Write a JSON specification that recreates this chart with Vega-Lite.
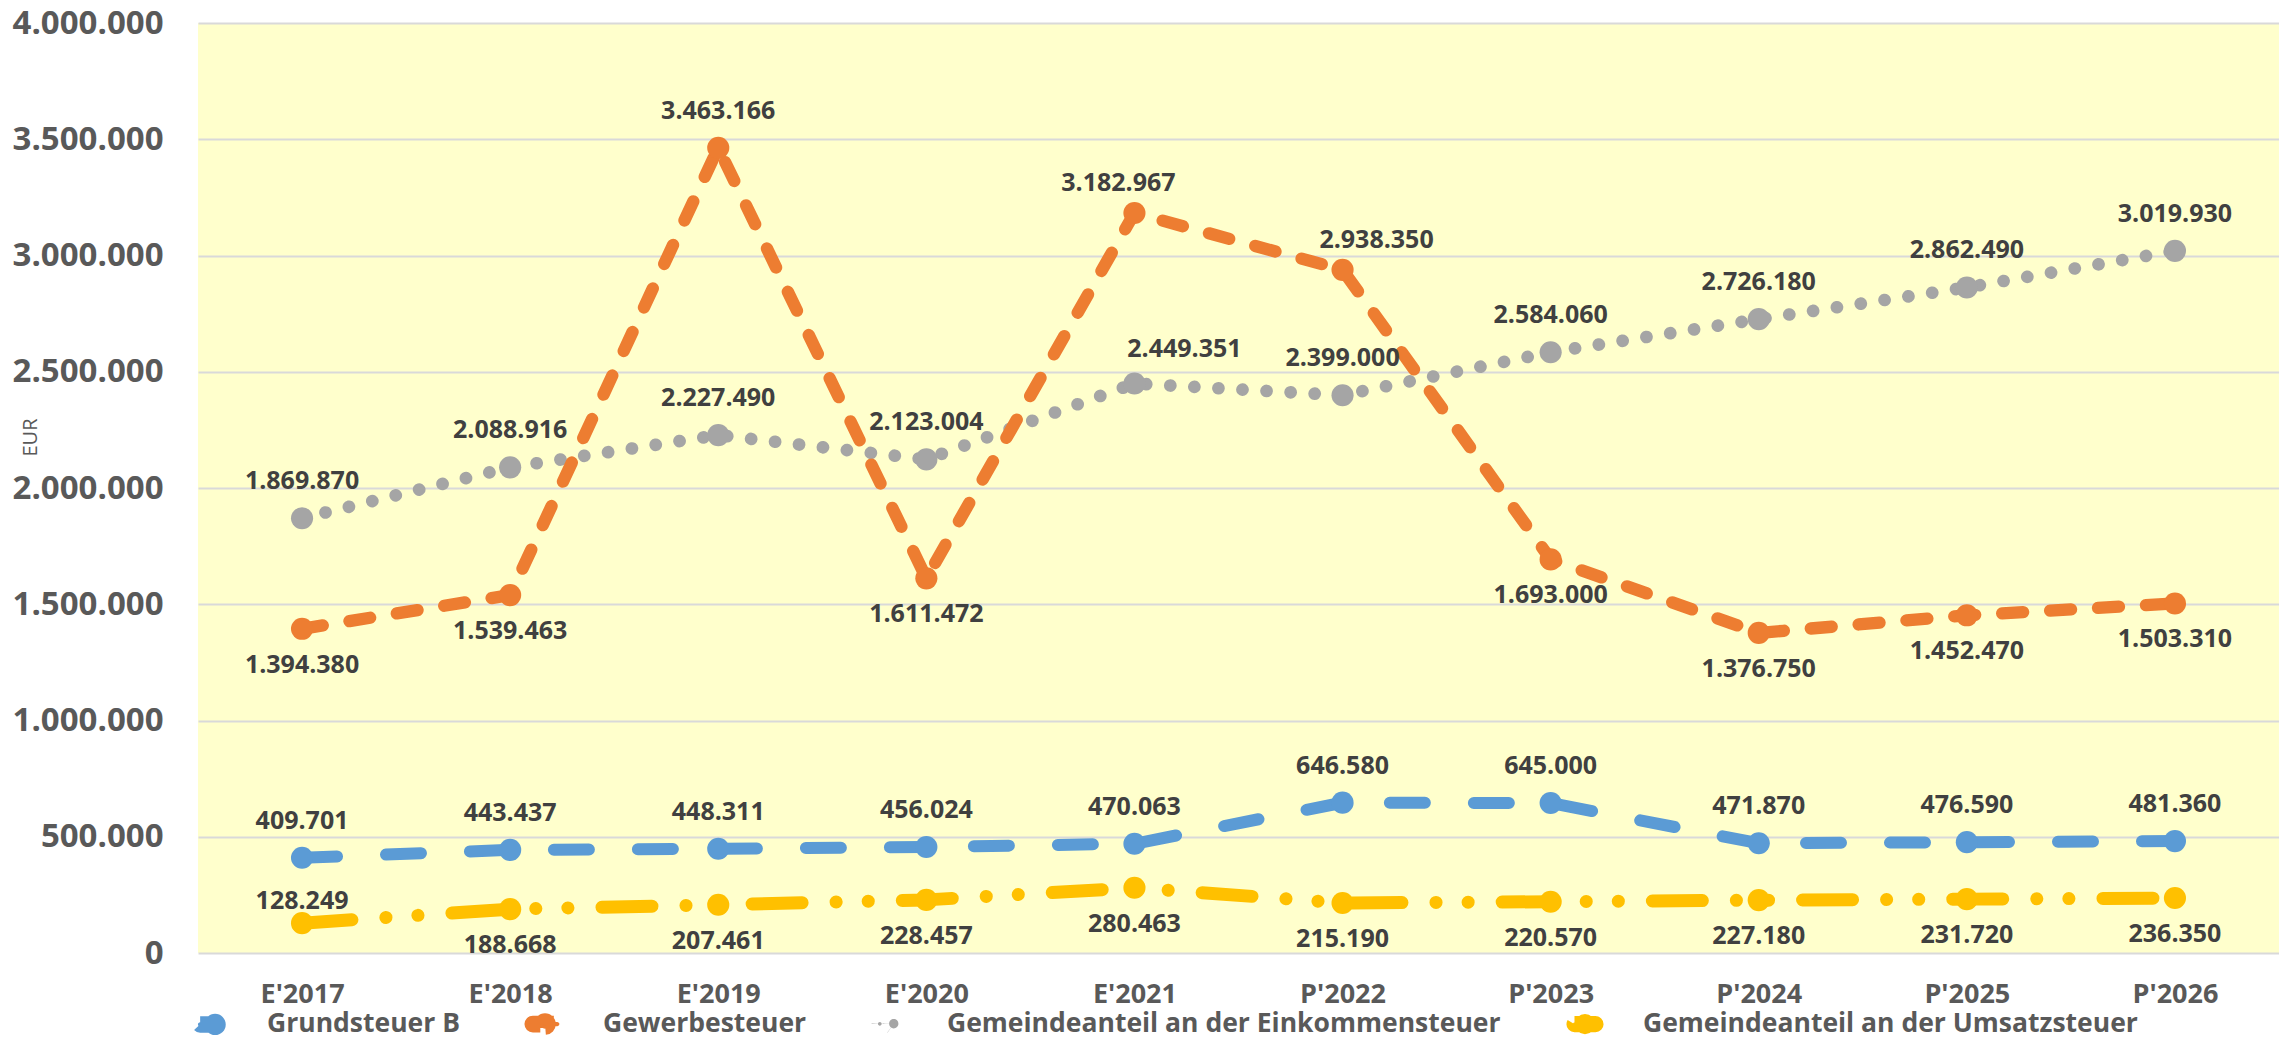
{
  "$schema": "https://vega.github.io/schema/vega-lite/v6.json",
  "width": 2081,
  "height": 930,
  "autosize": {"type": "none"},
  "padding": {"left": 198, "top": 23, "right": 0, "bottom": 86},
  "background": "white",
  "config": {
    "locale": {"number": {"decimal": ",", "thousands": ".", "grouping": [3], "currency": ["", " €"]}},
    "view": {"fill": "#FFFFCC", "stroke": null},
    "font": "Open Sans"
  },
  "data": {
    "values": [
      {"series": "Gemeindeanteil an der Umsatzsteuer", "year": "E'2017", "value": 128249},
      {"series": "Gemeindeanteil an der Umsatzsteuer", "year": "E'2018", "value": 188668},
      {"series": "Gemeindeanteil an der Umsatzsteuer", "year": "E'2019", "value": 207461},
      {"series": "Gemeindeanteil an der Umsatzsteuer", "year": "E'2020", "value": 228457},
      {"series": "Gemeindeanteil an der Umsatzsteuer", "year": "E'2021", "value": 280463},
      {"series": "Gemeindeanteil an der Umsatzsteuer", "year": "P'2022", "value": 215190},
      {"series": "Gemeindeanteil an der Umsatzsteuer", "year": "P'2023", "value": 220570},
      {"series": "Gemeindeanteil an der Umsatzsteuer", "year": "P'2024", "value": 227180},
      {"series": "Gemeindeanteil an der Umsatzsteuer", "year": "P'2025", "value": 231720},
      {"series": "Gemeindeanteil an der Umsatzsteuer", "year": "P'2026", "value": 236350},
      {"series": "Gemeindeanteil an der Einkommensteuer", "year": "E'2017", "value": 1869870},
      {"series": "Gemeindeanteil an der Einkommensteuer", "year": "E'2018", "value": 2088916},
      {"series": "Gemeindeanteil an der Einkommensteuer", "year": "E'2019", "value": 2227490},
      {"series": "Gemeindeanteil an der Einkommensteuer", "year": "E'2020", "value": 2123004},
      {"series": "Gemeindeanteil an der Einkommensteuer", "year": "E'2021", "value": 2449351},
      {"series": "Gemeindeanteil an der Einkommensteuer", "year": "P'2022", "value": 2399000},
      {"series": "Gemeindeanteil an der Einkommensteuer", "year": "P'2023", "value": 2584060},
      {"series": "Gemeindeanteil an der Einkommensteuer", "year": "P'2024", "value": 2726180},
      {"series": "Gemeindeanteil an der Einkommensteuer", "year": "P'2025", "value": 2862490},
      {"series": "Gemeindeanteil an der Einkommensteuer", "year": "P'2026", "value": 3019930},
      {"series": "Gewerbesteuer", "year": "E'2017", "value": 1394380},
      {"series": "Gewerbesteuer", "year": "E'2018", "value": 1539463},
      {"series": "Gewerbesteuer", "year": "E'2019", "value": 3463166},
      {"series": "Gewerbesteuer", "year": "E'2020", "value": 1611472},
      {"series": "Gewerbesteuer", "year": "E'2021", "value": 3182967},
      {"series": "Gewerbesteuer", "year": "P'2022", "value": 2938350},
      {"series": "Gewerbesteuer", "year": "P'2023", "value": 1693000},
      {"series": "Gewerbesteuer", "year": "P'2024", "value": 1376750},
      {"series": "Gewerbesteuer", "year": "P'2025", "value": 1452470},
      {"series": "Gewerbesteuer", "year": "P'2026", "value": 1503310},
      {"series": "Grundsteuer B", "year": "E'2017", "value": 409701},
      {"series": "Grundsteuer B", "year": "E'2018", "value": 443437},
      {"series": "Grundsteuer B", "year": "E'2019", "value": 448311},
      {"series": "Grundsteuer B", "year": "E'2020", "value": 456024},
      {"series": "Grundsteuer B", "year": "E'2021", "value": 470063},
      {"series": "Grundsteuer B", "year": "P'2022", "value": 646580},
      {"series": "Grundsteuer B", "year": "P'2023", "value": 645000},
      {"series": "Grundsteuer B", "year": "P'2024", "value": 471870},
      {"series": "Grundsteuer B", "year": "P'2025", "value": 476590},
      {"series": "Grundsteuer B", "year": "P'2026", "value": 481360}
    ]
  },
  "encoding": {
    "x": {
      "field": "year", "type": "ordinal", "sort": null,
      "scale": {"type": "point", "padding": 0.5},
      "axis": {"title": null, "labelAngle": 0, "labelFont": "Open Sans", "labelFontWeight": "bold", "labelFontSize": 27, "labelColor": "#595959", "ticks": false, "domain": false, "grid": false, "labelPadding": 41, "labelBaseline": "middle"}
    },
    "y": {
      "field": "value", "type": "quantitative",
      "scale": {"domain": [0, 4000000], "nice": false},
      "axis": {
        "title": "EUR", "values": [0, 500000, 1000000, 1500000, 2000000, 2500000, 3000000, 3500000, 4000000],
        "format": ",d", "labelFont": "Open Sans", "labelFontSize": 33, "labelFontWeight": "bold", "labelColor": "#595959",
        "labelPadding": 35, "ticks": false, "domain": false, "gridColor": "#D9D9D9", "gridWidth": 2,
        "titleFont": "Open Sans", "titleFontSize": 20, "titleFontWeight": "normal", "titleColor": "#595959",
        "titleX": -168, "titleY": 414, "titleAngle": -90, "titleAlign": "center", "titleBaseline": "middle"
      }
    }
  },
  "layer": [
    {
      "mark": {"type": "line", "strokeCap": "round", "strokeJoin": "round"},
      "encoding": {
        "color": {
          "field": "series", "type": "nominal",
          "scale": {"domain": ["Grundsteuer B", "Gewerbesteuer", "Gemeindeanteil an der Einkommensteuer", "Gemeindeanteil an der Umsatzsteuer"], "range": ["#5B9BD5", "#ED7D31", "#A5A5A5", "#FFC000"]},
          "legend": {
            "orient": "none", "legendX": -7, "legendY": 983, "direction": "horizontal", "columns": 4, "title": null,
            "labelFont": "Open Sans", "labelFontWeight": "bold", "labelFontSize": 26.5, "labelColor": "#595959", "labelLimit": 1000,
            "symbolSize": 3600, "labelOffset": 40, "columnPadding": 45, "padding": 0, "symbolStrokeWidth": 0,
            "encode": {
              "symbols": {
                "update": {
                  "shape": {"signal": "datum.value === 'Grundsteuer B' ? 'M-0.8,-0.2 L0.5,-0.2 L0.5,0.2 L-0.8,0.2 A0.2,0.2 0 0 1 -0.8,-0.2 Z M0.13,0 A0.42,0.42 0 1 1 0.97,0 A0.42,0.42 0 1 1 0.13,0 Z' : datum.value === 'Gewerbesteuer' ? 'M-1.1,-0.2 L1.1,-0.2 A0.2,0.2 0 0 1 1.1,0.2 L-1.1,0.2 A0.2,0.2 0 0 1 -1.1,-0.2 Z M-0.42,0 A0.42,0.42 0 1 1 0.42,0 A0.42,0.42 0 1 1 -0.42,0 Z' : datum.value === 'Gemeindeanteil an der Einkommensteuer' ? 'M-1.0,0 A0.17,0.17 0 1 1 -0.66,0 A0.17,0.17 0 1 1 -1.0,0 Z M0.01,0 A0.42,0.42 0 1 1 0.85,0 A0.42,0.42 0 1 1 0.01,0 Z' : 'M-0.95,-0.14 L0.95,-0.14 A0.14,0.14 0 0 1 0.95,0.14 L-0.95,0.14 A0.14,0.14 0 0 1 -0.95,-0.14 Z M-0.33,0 A0.33,0.33 0 1 1 0.33,0 A0.33,0.33 0 1 1 -0.33,0 Z'"},
                  "fill": {"scale": "color", "field": "value"},
                  "strokeWidth": {"value": 0},
                  "opacity": {"value": 1}
                }
              }
            }
          }
        },
        "strokeDash": {
          "field": "series", "type": "nominal",
          "scale": {"domain": ["Grundsteuer B", "Gewerbesteuer", "Gemeindeanteil an der Einkommensteuer", "Gemeindeanteil an der Umsatzsteuer"], "range": [[35, 49], [21, 27], [0.1, 24], [50, 34, 0.1, 32, 0.1, 34]]},
          "legend": null
        },
        "strokeWidth": {
          "field": "series", "type": "nominal",
          "scale": {"domain": ["Grundsteuer B", "Gewerbesteuer", "Gemeindeanteil an der Einkommensteuer", "Gemeindeanteil an der Umsatzsteuer"], "range": [12, 13, 12, 8.5]},
          "legend": null
        }
      }
    },
    {
      "mark": {"type": "point", "filled": true, "opacity": 1, "shape": "circle", "strokeWidth": 0},
      "encoding": {
        "fill": {
          "field": "series", "type": "nominal",
          "scale": {"domain": ["Grundsteuer B", "Gewerbesteuer", "Gemeindeanteil an der Einkommensteuer", "Gemeindeanteil an der Umsatzsteuer"], "range": ["#5B9BD5", "#ED7D31", "#A5A5A5", "#FFC000"]},
          "legend": null
        },
        "size": {
          "field": "series", "type": "nominal",
          "scale": {"domain": ["Grundsteuer B", "Gewerbesteuer", "Gemeindeanteil an der Einkommensteuer", "Gemeindeanteil an der Umsatzsteuer"], "range": [490, 490, 490, 314]},
          "legend": null
        }
      }
    },
    {
      "transform": [{"filter": "datum.series === 'Grundsteuer B' || (datum.series === 'Gemeindeanteil an der Einkommensteuer' && datum.year !== \"E'2021\") || (datum.series === 'Gewerbesteuer' && datum.year === \"E'2019\")"}],
      "mark": {"type": "text", "dy": -37, "font": "Open Sans", "fontWeight": "bold", "fontSize": 25, "color": "#404040", "baseline": "middle"},
      "encoding": {"text": {"field": "value", "type": "quantitative", "format": ",d"}}
    },
    {
      "transform": [{"filter": "datum.series === 'Gemeindeanteil an der Einkommensteuer' && datum.year === \"E'2021\""}],
      "mark": {"type": "text", "dy": -35, "dx": 50, "font": "Open Sans", "fontWeight": "bold", "fontSize": 25, "color": "#404040", "baseline": "middle"},
      "encoding": {"text": {"field": "value", "type": "quantitative", "format": ",d"}}
    },
    {
      "transform": [{"filter": "datum.series === 'Gewerbesteuer' && datum.year === \"E'2021\""}],
      "mark": {"type": "text", "dy": -30, "dx": -16, "font": "Open Sans", "fontWeight": "bold", "fontSize": 25, "color": "#404040", "baseline": "middle"},
      "encoding": {"text": {"field": "value", "type": "quantitative", "format": ",d"}}
    },
    {
      "transform": [{"filter": "datum.series === 'Gewerbesteuer' && datum.year === \"P'2022\""}],
      "mark": {"type": "text", "dy": -30, "dx": 34, "font": "Open Sans", "fontWeight": "bold", "fontSize": 25, "color": "#404040", "baseline": "middle"},
      "encoding": {"text": {"field": "value", "type": "quantitative", "format": ",d"}}
    },
    {
      "transform": [{"filter": "(datum.series === 'Gewerbesteuer' && datum.value < 2500000) || (datum.series === 'Gemeindeanteil an der Umsatzsteuer' && datum.year !== \"E'2017\")"}],
      "mark": {"type": "text", "dy": 36, "font": "Open Sans", "fontWeight": "bold", "fontSize": 25, "color": "#404040", "baseline": "middle"},
      "encoding": {"text": {"field": "value", "type": "quantitative", "format": ",d"}}
    },
    {
      "transform": [{"filter": "datum.series === 'Gemeindeanteil an der Umsatzsteuer' && datum.year === \"E'2017\""}],
      "mark": {"type": "text", "dy": -22, "font": "Open Sans", "fontWeight": "bold", "fontSize": 25, "color": "#404040", "baseline": "middle"},
      "encoding": {"text": {"field": "value", "type": "quantitative", "format": ",d"}}
    }
  ]
}
